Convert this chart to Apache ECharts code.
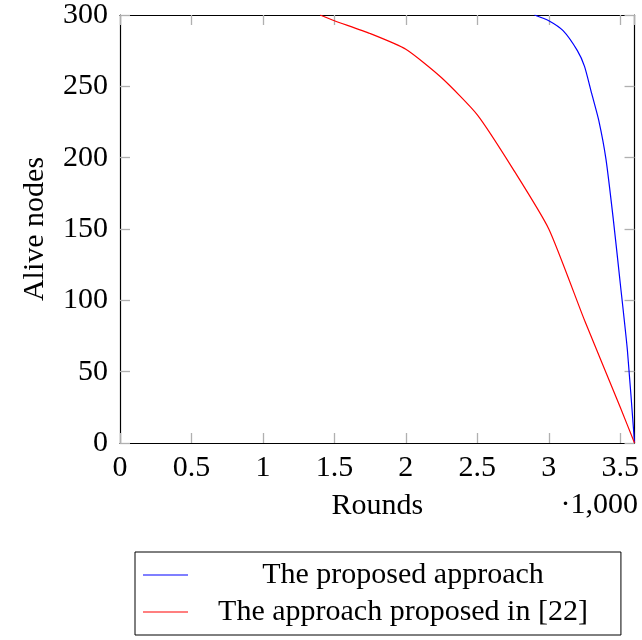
<!DOCTYPE html>
<html>
<head>
<meta charset="utf-8">
<script src="https://cdn.jsdelivr.net/npm/echarts@6/dist/echarts.min.js"></script>
<style>
  html, body { margin: 0; padding: 0; background: #fff; }
  #chart { width: 642px; height: 640px; }
</style>
</head>
<body>
<div id="chart"></div>
<script>
// ====== data (rounds in thousands) ======
const seriesNames = ["The proposed approach", "The approach proposed in [22]"];
const proposedX = [2.9, 3.0, 3.1, 3.2, 3.25, 3.3, 3.35, 3.4, 3.45, 3.5, 3.55, 3.6];
const proposedY = [300, 296, 289, 275, 264, 245, 226, 199, 158, 112, 65, 0];
const refX = [1.4, 1.5, 1.75, 2.0, 2.25, 2.5, 2.75, 3.0, 3.25, 3.5, 3.6];
const refY = [300, 296, 287, 276, 256, 230, 192, 150, 86, 25, 0];

const FONT = "Liberation Serif";
const zip = (xs, ys) => xs.map((x, i) => [x, ys[i]]);

const chart = echarts.init(document.getElementById("chart"));

// 坐标轴样式：刻度朝内、灰色，边框四周都画
const tickStyle = { show: true, inside: true, length: 10, lineStyle: { color: "#b0b0b0", width: 1.3 } };
const lineStyle = { show: true, onZero: false, lineStyle: { color: "#000", width: 1.2 } };

const option = {
  backgroundColor: "#fff",
  animation: false,
  grid: { left: 120, right: 4, top: 13, bottom: 197 },
  xAxis: [{
    type: "value", min: 0, max: 3.6, interval: 0.5, position: "bottom",
    name: "Rounds", nameLocation: "middle", nameGap: 48,
    nameTextStyle: { fontFamily: FONT, fontSize: 30, color: "#000" },
    axisLine: lineStyle, axisTick: tickStyle, splitLine: { show: false },
    axisLabel: { fontFamily: FONT, fontSize: 30, color: "#000", margin: 10, showMaxLabel: false }
  }, {
    type: "value", min: 0, max: 3.6, interval: 0.5, position: "top",
    axisLine: lineStyle, axisTick: tickStyle, splitLine: { show: false },
    axisLabel: { show: false }
  }],
  yAxis: [{
    type: "value", min: 0, max: 300, interval: 50, position: "left",
    name: "Alive nodes", nameLocation: "middle", nameGap: 70,
    nameTextStyle: { fontFamily: FONT, fontSize: 30, color: "#000" },
    axisLine: lineStyle, axisTick: tickStyle, splitLine: { show: false },
    axisLabel: { fontFamily: FONT, fontSize: 30, color: "#000", margin: 12 }
  }, {
    type: "value", min: 0, max: 300, interval: 50, position: "right",
    axisLine: lineStyle, axisTick: tickStyle, splitLine: { show: false },
    axisLabel: { show: false }
  }],
  legend: {
    orient: "vertical", left: 135, top: 552,
    padding: [8, 33, 8, 8], itemGap: 7,
    icon: "rect", itemWidth: 45, itemHeight: 1.2,
    borderColor: "#000", borderWidth: 1,
    formatter: name => "{c|" + name + "}",
    textStyle: {
      fontFamily: FONT, fontSize: 30, color: "#000",
      rich: { c: { width: 420, align: "center", fontFamily: FONT, fontSize: 30 } }
    },
    data: seriesNames
  },
  graphic: [{
    type: "text", right: 4, top: 490,
    style: { text: "·1,000", fontFamily: FONT, fontSize: 30, fill: "#000" }
  }],
  series: [{
    name: seriesNames[0], type: "line", symbol: "none", smooth: 0.2,
    lineStyle: { color: "#0000ff", width: 1.2 }, itemStyle: { color: "#0000ff" },
    data: zip(proposedX, proposedY)
  }, {
    name: seriesNames[1], type: "line", symbol: "none", smooth: 0.2,
    lineStyle: { color: "#ff0000", width: 1.2 }, itemStyle: { color: "#ff0000" },
    data: zip(refX, refY)
  }]
};

chart.setOption(option);
window.addEventListener("resize", () => chart.resize());
</script>
</body>
</html>
